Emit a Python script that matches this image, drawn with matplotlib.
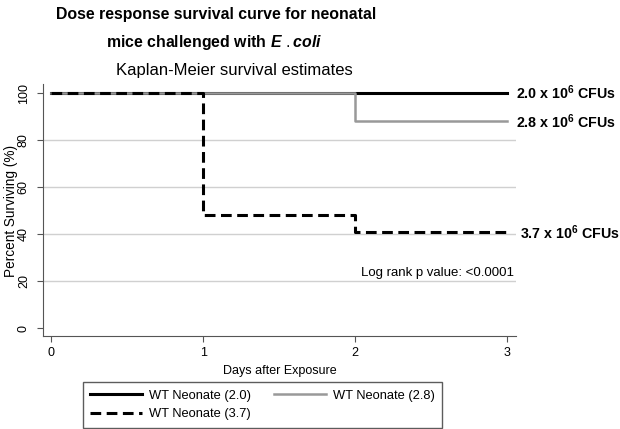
#!/usr/bin/env python3
"""Kaplan-Meier dose response curves for neonatal mice."""

import matplotlib
matplotlib.use("Agg")
import matplotlib.pyplot as plt

days = [0, 1, 2, 3]
surv_20 = [100, 100, 100, 100]
surv_28 = [100, 100, 88, 88]
surv_37 = [100, 48, 40.7, 40.7]

legend_labels = ["WT Neonate (2.0)", "WT Neonate (2.8)", "WT Neonate (3.7)"]
dose_labels = [r"2.0 x 10$^{\mathbf{6}}$ CFUs", r"2.8 x 10$^{\mathbf{6}}$ CFUs",
               r"3.7 x 10$^{\mathbf{6}}$ CFUs"]
y_ticks = [0, 20, 40, 60, 80, 100]
x_ticks = [0, 1, 2, 3]

plt.rcParams["font.family"] = ["Liberation Sans", "DejaVu Sans"]
plt.rcParams["mathtext.fontset"] = "custom"
plt.rcParams["mathtext.rm"] = "Liberation Sans"
plt.rcParams["mathtext.bf"] = "Liberation Sans:bold"
plt.rcParams["mathtext.it"] = "Liberation Sans:italic:bold"


def main():
    fig = plt.figure(figsize=(6.2, 4.29), dpi=100)
    ax = fig.add_axes([0.0694, 0.2168, 0.7626, 0.5872])

    for y in [20, 40, 60, 80]:
        ax.axhline(y, color="#d0d0d0", lw=1.0, zorder=0)

    l20, = ax.step(days, surv_20, where="post", color="black", lw=2.2)
    l28, = ax.step(days, surv_28, where="post", color="#999999", lw=1.8)
    l37, = ax.step(days, surv_37, where="post", color="black", lw=2.2,
                   dashes=(3.5, 1.8))

    ax.set_xlim(-0.055, 3.059)
    ax.set_ylim(-3.4, 103.8)
    ax.set_xticks(x_ticks)
    ax.set_yticks(y_ticks)
    ax.tick_params(axis="both", direction="out", length=4.5, width=0.8,
                   color="#555555", labelsize=9)
    ax.tick_params(axis="y", pad=5)
    for lab in ax.get_yticklabels():
        lab.set_rotation(90)
        lab.set_va("center")
    for side in ["top", "right"]:
        ax.spines[side].set_visible(False)
    for side in ["left", "bottom"]:
        ax.spines[side].set_color("#555555")
        ax.spines[side].set_linewidth(0.8)

    ax.set_ylabel("Percent Surviving (%)", fontsize=9.8)
    ax.yaxis.set_label_coords(-0.052, 0.496)
    ax.set_xlabel("Days after Exposure", fontsize=9, labelpad=4)

    # dose labels at right end of each curve
    for lab, ys, dx in zip(dose_labels, [surv_20, surv_28, surv_37],
                           [0.06, 0.06, 0.085]):
        ax.text(3 + dx, ys[-1], lab, fontsize=10.3, fontweight="bold",
                va="center", ha="left", clip_on=False)

    ax.text(3.05, 23.5, "Log rank p value: <0.0001", fontsize=9.5,
            ha="right", va="center")

    fig.text(216 / 620, 1 - 15 / 429,
             "Dose response survival curve for neonatal",
             fontsize=11.4, fontweight="bold", ha="center", va="center")
    fig.text(214 / 620, 1 - 43 / 429,
             r"mice challenged with $\mathit{E\ .coli}$",
             fontsize=11.4, fontweight="bold", ha="center", va="center")
    fig.text(234 / 620, 1 - 70 / 429, "Kaplan-Meier survival estimates",
             fontsize=12, ha="center", va="center")

    fig.legend([l20, l37, l28],
               [legend_labels[0], legend_labels[2], legend_labels[1]],
               ncol=2, loc="upper center",
               bbox_to_anchor=(262.5 / 620, 1 - 382 / 429),
               borderaxespad=0,
               frameon=True, fancybox=False, edgecolor="#333333",
               fontsize=9.3, handlelength=4.0, handletextpad=0.55,
               columnspacing=1.75, borderpad=0.6, labelspacing=0.5)

    fig.savefig("out.png", dpi=100)


if __name__ == "__main__":
    main()
